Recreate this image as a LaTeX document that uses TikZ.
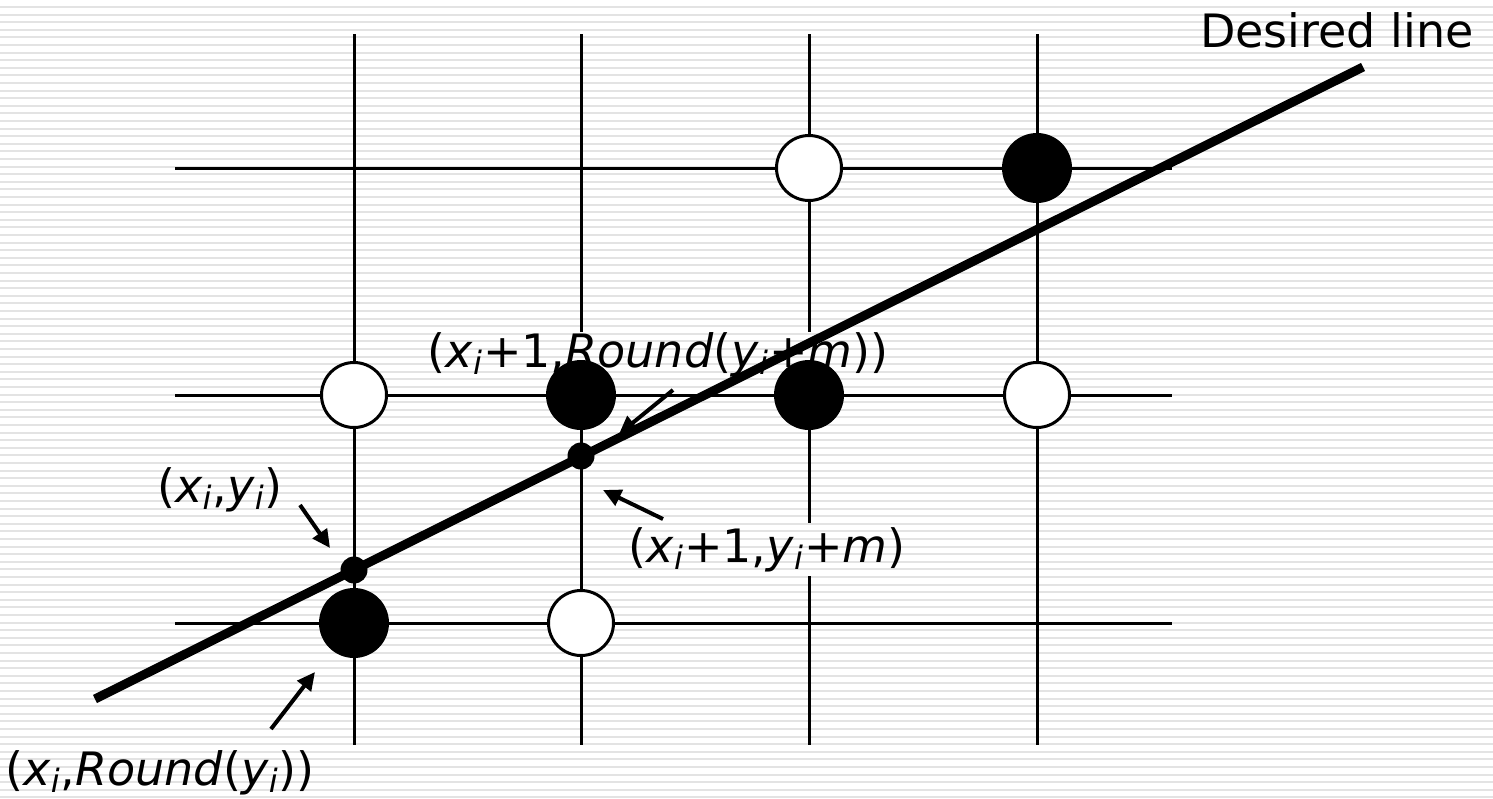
\documentclass[tikz,border=0pt]{standalone}
\usepackage{fontspec}
\setmainfont{DejaVu Sans}
\usetikzlibrary{arrows.meta}
\begin{document}
\begin{tikzpicture}[x=0.5pt,y=-0.5pt,
  gridline/.style={line width=1.5pt},
  openpt/.style={circle,draw,line width=1.5pt,fill=white,minimum size=32.5pt,inner sep=0pt},
  fullpt/.style={circle,fill=black,minimum size=35pt,inner sep=0pt},
  linept/.style={circle,fill=black,minimum size=13.5pt,inner sep=0pt},
  lbl/.style={fill=white,inner sep=2pt,anchor=base,font=\fontsize{23}{28}\selectfont},
  pointer/.style={line width=2pt,-{Triangle[length=9pt,width=8.5pt]}}]
\useasboundingbox (0,0) rectangle (1493,798);
\fill[white] (0,0) rectangle (1493,798);

% grid
\foreach \x in {354,581,809,1037}
  \draw[gridline] (\x,34) -- (\x,745);
\foreach \y in {168,395,623}
  \draw[gridline] (175,\y) -- (1172,\y);

% labels
\node[lbl] (desired) at (1337,47) {Desired line};
\node[lbl,inner sep=0pt] (roundnext) at (658,367) {(\textit{x}\textsubscript{\textit{i}}+1,\textit{Round}(\textit{y}\textsubscript{\textit{i}}+\textit{m}))};
\node[lbl] (start) at (220,502) {(\textit{x}\textsubscript{\textit{i}},\textit{y}\textsubscript{\textit{i}})};
\node[lbl] (next) at (767,562) {(\textit{x}\textsubscript{\textit{i}}+1,\textit{y}\textsubscript{\textit{i}}+\textit{m})};
\node[lbl,inner sep=0pt] (roundstart) at (160,785) {(\textit{x}\textsubscript{\textit{i}},\textit{Round}(\textit{y}\textsubscript{\textit{i}}))};

% background stripes
\begin{scope}[blend mode=multiply]
\foreach \s in {0,...,104}
  \fill[black!11] (0,6+7.6*\s) rectangle (1493,8+7.6*\s);
\end{scope}

% pixels
\node[openpt] (p31) at (809,168) {};
\node[fullpt] (p41) at (1037,168) {};
\node[openpt] (p12) at (354,395) {};
\node[fullpt] (p22) at (581,395) {};
\node[fullpt] (p32) at (809,395) {};
\node[openpt] (p42) at (1037,395) {};
\node[fullpt] (p13) at (354,623) {};
\node[openpt] (p23) at (581,623) {};

% desired line
\coordinate (lstart) at (95,699);
\coordinate (lend) at (1363,67);
\draw[line width=4.5pt] (lstart) -- (lend);
\node[linept] (q1) at (354,570) {};
\node[linept] (q2) at (581,456) {};

% pointers
\coordinate (t1) at (673,390);
\coordinate (h1) at (619,434);
\coordinate (t2) at (300,505);
\coordinate (h2) at (330,548);
\coordinate (t3) at (663,519);
\coordinate (h3) at (603,490);
\coordinate (t4) at (271,729);
\coordinate (h4) at (315,672);
\draw[pointer] (t1) -- (h1);
\draw[pointer] (t2) -- (h2);
\draw[pointer] (t3) -- (h3);
\draw[pointer] (t4) -- (h4);
\end{tikzpicture}
\end{document}
